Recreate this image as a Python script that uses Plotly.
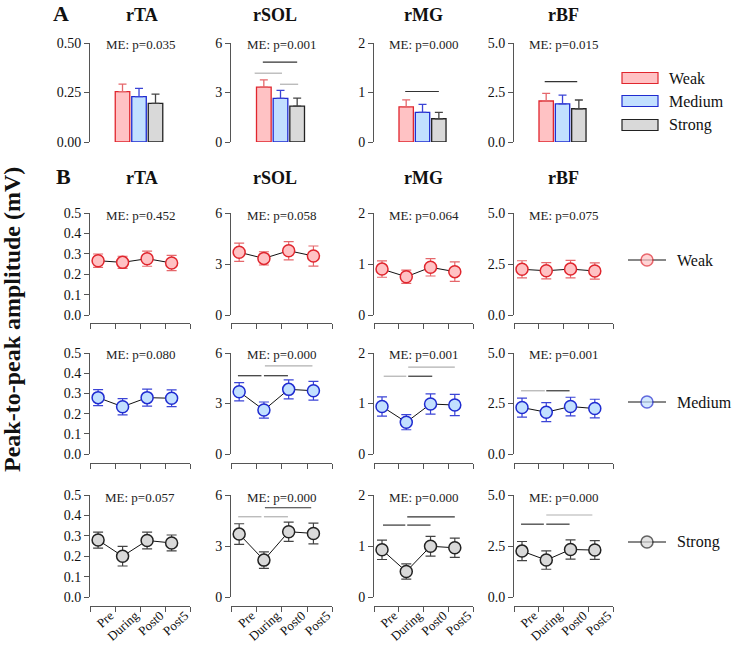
import plotly.graph_objects as go

W, H = 735, 645
FONT = "Liberation Serif"

muscles = ["rTA", "rSOL", "rMG", "rBF"]
intensities = ["Weak", "Medium", "Strong"]
times = ["Pre", "During", "Post0", "Post5"]

# ---- Panel A: mean amplitude per intensity ----
a_mean = {
    "rTA": [0.254, 0.229, 0.195],
    "rSOL": [3.32, 2.64, 2.18],
    "rMG": [0.71, 0.60, 0.47],
    "rBF": [2.07, 1.93, 1.68],
}
a_err = {
    "rTA": [0.038, 0.042, 0.047],
    "rSOL": [0.44, 0.49, 0.48],
    "rMG": [0.14, 0.16, 0.13],
    "rBF": [0.39, 0.44, 0.44],
}
a_p = ["0.035", "0.001", "0.000", "0.015"]
# significance lines: (x0, x1, y, shade)
a_sig = {
    "rTA": [],
    "rSOL": [(-0.06, 2.0, 4.84, "dark"), (-0.55, 1.09, 4.17, "light"), (0.97, 2.06, 3.5, "light")],
    "rMG": [(-0.06, 2.0, 1.02, "dark")],
    "rBF": [(-0.09, 1.9, 3.05, "dark")],
}

# ---- Panel B: time course per intensity ----
b_mean = {
    "Weak": {"rTA": [0.266, 0.258, 0.276, 0.255], "rSOL": [3.69, 3.33, 3.78, 3.47],
             "rMG": [0.90, 0.75, 0.935, 0.85], "rBF": [2.24, 2.17, 2.25, 2.16]},
    "Medium": {"rTA": [0.279, 0.234, 0.279, 0.276], "rSOL": [3.70, 2.61, 3.84, 3.76],
               "rMG": [0.94, 0.63, 0.99, 0.97], "rBF": [2.30, 2.07, 2.35, 2.25]},
    "Strong": {"rTA": [0.279, 0.200, 0.277, 0.265], "rSOL": [3.70, 2.17, 3.84, 3.74],
               "rMG": [0.925, 0.50, 0.995, 0.965], "rBF": [2.25, 1.81, 2.33, 2.30]},
}
b_err = {
    "Weak": {"rTA": [0.033, 0.030, 0.037, 0.037], "rSOL": [0.54, 0.39, 0.54, 0.59],
             "rMG": [0.16, 0.13, 0.17, 0.19], "rBF": [0.42, 0.40, 0.43, 0.40]},
    "Medium": {"rTA": [0.040, 0.040, 0.042, 0.041], "rSOL": [0.54, 0.48, 0.56, 0.56],
               "rMG": [0.19, 0.15, 0.20, 0.21], "rBF": [0.47, 0.47, 0.46, 0.46]},
    "Strong": {"rTA": [0.039, 0.048, 0.041, 0.039], "rSOL": [0.61, 0.49, 0.57, 0.61],
               "rMG": [0.19, 0.15, 0.195, 0.19], "rBF": [0.47, 0.45, 0.47, 0.46]},
}
b_p = {
    "Weak": ["0.452", "0.058", "0.064", "0.075"],
    "Medium": ["0.080", "0.000", "0.001", "0.001"],
    "Strong": ["0.057", "0.000", "0.000", "0.000"],
}
b_sig = {
    "Weak": {"rTA": [], "rSOL": [], "rMG": [], "rBF": []},
    "Medium": {
        "rTA": [],
        "rSOL": [(-0.05, 0.9, 4.65, "dark"), (1.0, 1.97, 4.65, "dark"), (1.04, 2.96, 5.23, "light")],
        "rMG": [(0.07, 1.0, 1.54, "light"), (1.08, 2.07, 1.54, "dark"), (1.08, 3.0, 1.72, "light")],
        "rBF": [(-0.04, 0.94, 3.13, "light"), (1.0, 1.96, 3.13, "dark")],
    },
    "Strong": {
        "rTA": [],
        "rSOL": [(1.04, 2.91, 5.25, "dark"), (-0.04, 0.9, 4.72, "light"), (1.0, 1.97, 4.72, "light")],
        "rMG": [(1.04, 3.0, 1.57, "dark"), (0.04, 0.96, 1.41, "dark"), (1.04, 2.0, 1.41, "dark")],
        "rBF": [(1.0, 2.9, 4.02, "light"), (-0.04, 0.9, 3.57, "dark"), (1.0, 1.96, 3.57, "dark")],
    },
}

# axis ticks
y_range = {"rTA": 0.5, "rSOL": 6, "rMG": 2, "rBF": 5}
a_ticks = {"rTA": [0, 0.25, 0.5], "rSOL": [0, 3, 6], "rMG": [0, 1, 2], "rBF": [0, 2.5, 5]}
b_ticks = {"rTA": [0, 0.1, 0.2, 0.3, 0.4, 0.5], "rSOL": [0, 3, 6], "rMG": [0, 1, 2], "rBF": [0, 2.5, 5]}
a_fmt = {"rTA": ".2f", "rSOL": "d", "rMG": "d", "rBF": ".1f"}
b_fmt = {"rTA": ".1f", "rSOL": "d", "rMG": "d", "rBF": ".1f"}

# styles
fill = {"Weak": "#FFC2C4", "Medium": "#C2E0FF", "Strong": "#D9D9D9"}
edge = {"Weak": "#E0262E", "Medium": "#1F2BD0", "Strong": "#222222"}
ebar = {"Weak": "#E5676B", "Medium": "#3B44D6", "Strong": "#444444"}
shade = {"dark": "#333333", "light": "#B0B0B0"}
AX = "#555555"

# pixel layout
cols_px = [(90, 190), (231, 332), (374, 473), (514, 613)]
a_row_px = (43, 142)
b_rows_px = [(213, 315), (353, 454), (495, 597)]
b_xline_px = [323, 463, 606]


def xd(a, b):
    return [a / W, b / W]


def yd(top, bottom):
    return [1 - bottom / H, 1 - top / H]


def names(i):
    s = "" if i == 1 else str(i)
    return "x" + s, "y" + s, "xaxis" + s, "yaxis" + s


fig = go.Figure()
layout = {}
shapes = []
annotations = []

TF = dict(family=FONT, size=14, color="#111")
MEF = dict(family=FONT, size=13, color="#222")


def ann(text, x, y, size, bold=False, **kw):
    annotations.append(dict(
        text=("<b>%s</b>" % text) if bold else text, x=x, y=y,
        xref="paper", yref="paper", xanchor="center", yanchor="middle",
        showarrow=False, font=dict(family=FONT, size=size, color="#111"), **kw))


idx = 0
# ---------- Panel A ----------
for c, m in enumerate(muscles):
    idx += 1
    xa, ya, xk, yk = names(idx)
    layout[xk] = dict(domain=xd(*cols_px[c]), range=[-1.97, 4.09], visible=False,
                      anchor=ya, fixedrange=True, automargin=False)
    layout[yk] = dict(domain=yd(*a_row_px), range=[0, y_range[m]], anchor=xa,
                      tickvals=a_ticks[m], tickformat=a_fmt[m], ticks="outside",
                      ticklen=5, tickcolor=AX, showline=True, linecolor=AX,
                      linewidth=1, showgrid=False, zeroline=False, tickfont=TF,
                      automargin=False, fixedrange=True)
    for i, g in enumerate(intensities):
        fig.add_trace(go.Bar(
            x=[i], y=[a_mean[m][i]], width=0.88, xaxis=xa, yaxis=ya, showlegend=False,
            marker=dict(color=fill[g], line=dict(color=edge[g], width=1.3)),
            error_y=dict(type="data", symmetric=False, array=[a_err[m][i]], arrayminus=[0],
                         color=ebar[g], thickness=1.3, width=4)))
    for (x0, x1, yv, s) in a_sig[m]:
        shapes.append(dict(type="line", xref=xa, yref=ya, x0=x0, x1=x1, y0=yv, y1=yv,
                           line=dict(color=shade[s], width=1.2)))
    annotations.append(dict(text="ME: p=" + a_p[c], xref=xa + " domain", yref=ya + " domain",
                            x=0.5, y=1, yshift=-2, showarrow=False, xanchor="center",
                            yanchor="middle", font=MEF))

# ---------- Panel B ----------
for r, g in enumerate(intensities):
    for c, m in enumerate(muscles):
        idx += 1
        xa, ya, xk, yk = names(idx)
        last = (r == len(intensities) - 1)
        layout[xk] = dict(
            domain=xd(*cols_px[c]), range=[-0.33, 3.75], anchor="free",
            position=1 - b_xline_px[r] / H, showline=True, linecolor=AX, linewidth=1,
            ticks="outside", ticklen=5, tickcolor=AX, showgrid=False, zeroline=False,
            tickvals=[-0.33, 0.7, 1.72, 2.74, 3.75],
            ticktext=[""] + times if last else [""] * 5,
            tickangle=-42 if last else 0, tickfont=dict(family=FONT, size=13, color="#111"),
            ticklabelstandoff=-9, ticklabelshift=-5,
            fixedrange=True, automargin=False)
        layout[yk] = dict(domain=yd(*b_rows_px[r]), range=[0, y_range[m]], anchor=xa,
                          tickvals=b_ticks[m], tickformat=b_fmt[m], ticks="outside",
                          ticklen=5, tickcolor=AX, showline=True, linecolor=AX,
                          linewidth=1, showgrid=False, zeroline=False, tickfont=TF,
                          automargin=False, fixedrange=True)
        fig.add_trace(go.Scatter(
            x=list(range(len(times))), y=b_mean[g][m], xaxis=xa, yaxis=ya, mode="lines+markers",
            showlegend=False, cliponaxis=False,
            line=dict(color="#111", width=1),
            marker=dict(size=12, color=fill[g], line=dict(color=edge[g], width=1.5)),
            error_y=dict(type="data", array=b_err[g][m], color=ebar[g], thickness=1.2, width=5)))
        for (x0, x1, yv, s) in b_sig[g][m]:
            shapes.append(dict(type="line", xref=xa, yref=ya, x0=x0, x1=x1, y0=yv, y1=yv,
                               line=dict(color=shade[s], width=1.2)))
        annotations.append(dict(text="ME: p=" + b_p[g][c], xref=xa + " domain",
                                yref=ya + " domain", x=0.5, y=1, yshift=-2, showarrow=False,
                                xanchor="center", yanchor="middle", font=MEF))

# ---------- overlay axis in pixel units for legends ----------
idx += 1
ovx, ovy, xk, yk = names(idx)
layout[xk] = dict(domain=[0, 1], range=[0, W], visible=False, anchor=ovy, fixedrange=True,
                  automargin=False)
layout[yk] = dict(domain=[0, 1], range=[H, 0], visible=False, anchor=ovx, fixedrange=True,
                  automargin=False)

# legend A (bars)
legA_y = [78, 101, 125]
for g, yy in zip(intensities, legA_y):
    shapes.append(dict(type="rect", xref=ovx, yref=ovy, x0=622, x1=658, y0=yy - 5.5, y1=yy + 5.5,
                       fillcolor=fill[g], line=dict(color=edge[g], width=1.2), layer="above"))
    annotations.append(dict(text=g, xref=ovx, yref=ovy, x=667, y=yy, xanchor="left",
                            yanchor="middle", showarrow=False,
                            font=dict(family=FONT, size=16, color="#111")))

# legend B (line + marker)
legB_y = [260, 402, 542]
for g, yy in zip(intensities, legB_y):
    fig.add_trace(go.Scatter(x=[628, 647, 666], y=[yy, yy, yy], xaxis=ovx, yaxis=ovy,
                             mode="lines+markers", showlegend=False, hoverinfo="skip",
                             line=dict(color="#111", width=1),
                             marker=dict(size=[0, 12, 0], color=fill[g],
                                         line=dict(color=edge[g], width=[0, 1.5, 0]))))
    annotations.append(dict(text=g, xref=ovx, yref=ovy, x=675, y=yy, xanchor="left",
                            yanchor="middle", showarrow=False,
                            font=dict(family=FONT, size=16, color="#111")))

# ---------- titles ----------
ann("A", 61 / W, 1 - 14 / H, 22, bold=True)
ann("B", 64 / W, 1 - 176 / H, 22, bold=True)
title_x = [142, 275, 423, 563]
for m, tx in zip(muscles, title_x):
    ann(m, tx / W, 1 - 15 / H, 18, bold=True)
    ann(m, tx / W, 1 - 178 / H, 18, bold=True)
ann("Peak-to-peak amplitude (mV)", 12 / W, 1 - 320 / H, 24, bold=True, textangle=-90)

layout.update(dict(
    width=W, height=H, margin=dict(l=0, r=0, t=0, b=0, autoexpand=False),
    paper_bgcolor="white", plot_bgcolor="rgba(0,0,0,0)",
    barmode="overlay", showlegend=False,
    shapes=shapes, annotations=annotations,
    font=dict(family=FONT, color="#111"),
))
fig.update_layout(**layout)
fig.write_html("out.html", config={"displayModeBar": False, "staticPlot": True},
               post_script="document.body.style.margin='0px';document.body.style.overflow='hidden';")
